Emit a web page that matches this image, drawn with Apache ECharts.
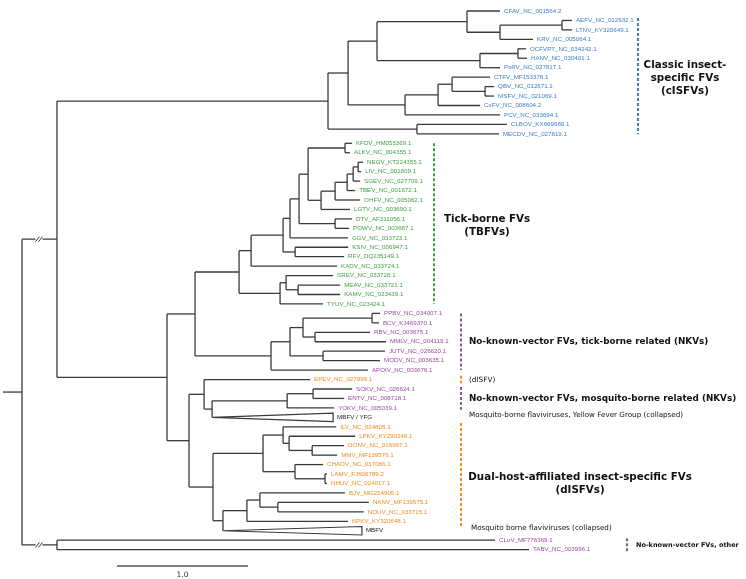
<!DOCTYPE html>
<html><head><meta charset="utf-8">
<script src="https://cdn.jsdelivr.net/npm/echarts@6/dist/echarts.min.js"></script>
<style>html,body{margin:0;padding:0;background:#fff}#c{width:746px;height:579px}</style>
</head><body><div id="c"></div>
<script>
// ---------- DATA ----------
// Phylogeny (branch lengths in substitutions/site, scale bar = 1.0)
const treeNewick = `(
 (
  (
   (
    (
     (CFAV_NC_001564.2:0.252,((AEFV_NC_012932.1:0.076,LTNV_KY320649.1:0.076):0.473,KRV_NC_005064.1:0.252):0.252):0.687,
     ((OCFVPT_NC_034242.1:0.061,HANV_NC_030401.1:0.069):0.290,PsRV_NC_027817.1:0.153):0.786
    ):0.221,
    (((CTFV_MF153378.1:0.290,(QBV_NC_012671.1:0.069,MSFV_NC_021069.1:0.069):0.252):0.107,CxFV_NC_008604.2:0.321):0.252,PCV_NC_033694.1:0.725):0.435
   ):0.153,
   (CLBOV_KX669689.1:0.687,MECDV_NC_027819.1:0.626):0.679
  ):2.069,
  (
   (
    (
     (
      (
       (
        (
         (
          (KFDV_HM055369.1:0.053,ALKV_NC_004355.1:0.038):0.282,
          (((((NEGV_KT224355.1:0.038,LIV_NC_001809.1:0.023):0.038,SGEV_NC_027709.1:0.053):0.046,TBEV_NC_001672.1:0.061):0.092,OHFV_NC_005062.1:0.191):0.107,LGTV_NC_003690.1:0.221):0.099
         ):0.069,
         (DTV_AF311056.1:0.130,POWV_NC_003687.1:0.107):0.275
        ):0.069,
        GGV_NC_033723.1:0.443
       ):0.053,
       (KSIV_NC_006947.1:0.405,RFV_DQ235149.1:0.374):0.092
      ):0.244,
      KADV_NC_033724.1:0.656
     ):0.092,
     ((SREV_NC_033726.1:0.359,(MEAV_NC_033721.1:0.321,KAMV_NC_023439.1:0.321):0.092):0.046,TYUV_NC_023424.1:0.328):0.313
    ):0.336,
    (
     (((PPBV_NC_034007.1:0.061,BCV_KJ469370.1:0.053):0.527,(RBV_NC_003675.1:0.420,MMLV_NC_004119.1:0.542):0.092):0.099,
      (JUTV_NC_026620.1:0.473,MODV_NC_003635.1:0.435):0.252):0.145,
     APOIV_NC_003676.1:0.740
    ):0.580
   ):0.214,
   (
    (
     EPEV_NC_027999.1:0.809,
     (((SOKV_NC_026624.1:0.298,ENTV_NC_008718.1:0.237):0.198,YOKV_NC_005039.1:0.359):0.573,MBFV / YFG:0.924):0.061
    ):0.115,
    (
     (
      (ILV_NC_024805.1:0.405,(LPKV_KY290249.1:0.504,(DONV_NC_016997.1:0.244,MMV_MF139576.1:0.191):0.176):0.046):0.153,
      (CHAOV_NC_017086.1:0.214,(LAMV_FJ606789.2:0.015,NHUV_NC_024017.1:0.015):0.229):0.244
     ):0.382,
     (
      ((BJV_MG214905.1:0.649,(NANV_MF139575.1:0.695,NOUV_NC_033715.1:0.656):0.137):0.099,KPKV_KY320648.1:0.771):0.183,
      MBFV:1.061
     ):0.076
    ):0.183
   ):0.168
  ):0.840
 )ingroup:0.267,
 (CLuV_MF776369.1:3.344,TABV_NC_003996.1:3.603)outgroup:0.267
):0.145;`;

// group of each leaf, in tree order: C=cISFV, T=TBFV, N=NKV, D=dISFV, M=MBFV collapsed
const leafGroups = "CCCCCCCCCCCCCCTTTTTTTTTTTTTTTTTTNNNNNNNDNNNMDDDDDDDDDDDMNN";
const groupColors = { C: "#3d7fc1", T: "#43a047", N: "#9a4ca2", D: "#f28c23", M: "#222222" };
const collapsedClades = ["MBFV / YFG", "MBFV"];
const brokenEdges = ["ingroup", "outgroup"];

// clade bars: [first row, last row], x position (substitutions), colour group
const barRows = [[0.75, 13.05], [14, 31], [32, 38], [38.6, 39.4], [39.8, 42.2], [43.6, 54.5], [55.8, 57.3]];
const barX = [4.702, 3.145, 3.351, 3.351, 3.351, 3.351, 4.618];
const barGroup = ["C", "T", "N", "D", "N", "D", "N"];

// annotations
const noteTexts = [
  "Classic insect-\nspecific FVs\n(cISFVs)",
  "Tick-borne FVs\n(TBFVs)",
  "No-known-vector FVs, tick-borne related (NKVs)",
  "(dISFV)",
  "No-known-vector FVs, mosquito-borne related (NKVs)",
  "Mosquito-borne flaviviruses, Yellow Fever Group (collapsed)",
  "Dual-host-affiliated insect-specific FVs\n(dISFVs)",
  "Mosquito borne flaviviruses (collapsed)",
  "No-known-vector FVs, other"
];
const noteX = [5.061, 3.55, 3.412, 3.412, 3.412, 3.412, 4.26, 3.427, 4.687];
const noteRow = [7.09, 22.75, 35.03, 39.05, 41.06, 42.75, 50.0, 54.7, 56.5];
const noteAlign = ["center", "center", "left", "left", "left", "left", "center", "left", "left"];
const noteSize = [10.3, 10.3, 8.8, 7.3, 8.8, 7.2, 10.3, 7.2, 6.5];
const noteBold = [true, true, true, false, true, false, true, false, true];

// scale bar
const scaleBarStart = 0.725, scaleBarLength = 1.0, scaleBarRow = 58.73, scaleBarLabel = "1.0";

// ---------- TREE LAYOUT ----------
function parseNewick(str) {
  const s = str.replace(/\s*([(),:;])\s*/g, "$1").trim();
  let i = 0;
  function node() {
    const n = { children: [], name: "", len: 0 };
    if (s[i] === "(") {
      i++;
      n.children.push(node());
      while (s[i] === ",") { i++; n.children.push(node()); }
      i++;
    }
    let name = "";
    while (i < s.length && !":,();".includes(s[i])) name += s[i++];
    n.name = name.trim();
    if (s[i] === ":") {
      i++; let num = "";
      while (i < s.length && !",();".includes(s[i])) num += s[i++];
      n.len = parseFloat(num);
    }
    return n;
  }
  return node();
}
const root = parseNewick(treeNewick);
let leafCounter = 0;
const leaves = [];
function layout(n, x) {
  n.x = x;
  if (!n.children.length) { n.y = leafCounter++; leaves.push(n); return; }
  n.children.forEach(c => layout(c, x + c.len));
  n.y = (n.children[0].y + n.children[n.children.length - 1].y) / 2;
}
layout(root, 0);

const segs = [], tris = [], breaks = [];
segs.push([-root.len, root.y, 0, root.y]);
(function walk(n) {
  if (!n.children.length) return;
  const c0 = n.children[0], c1 = n.children[n.children.length - 1];
  segs.push([n.x, c0.y, n.x, c1.y]);
  n.children.forEach(c => {
    if (collapsedClades.includes(c.name)) tris.push([n.x, c.y, c.x]);
    else segs.push([n.x, c.y, c.x, c.y]);
    if (brokenEdges.includes(c.name)) breaks.push([(n.x + c.x) / 2, c.y]);
    walk(c);
  });
})(root);

const leafLabels = leaves.map((l, k) => [l.x, l.y, l.name, groupColors[leafGroups[k]]]);

// ---------- CHART ----------
const chart = echarts.init(document.getElementById("c"), null, { renderer: "canvas" });
const lineCol = "#3a3a3a";
chart.setOption({
  animation: false,
  backgroundColor: "#ffffff",
  grid: { left: 3, right: 0, top: 0, bottom: 0 },
  xAxis: { type: "value", min: -0.145, max: -0.145 + 743 / 131, show: false },
  yAxis: { type: "value", min: -1.164, max: 60.106, inverse: true, show: false },
  series: [
    {
      type: "custom", data: segs, clip: false, silent: true,
      renderItem: (p, api) => {
        const a = api.coord([api.value(0), api.value(1)]), b = api.coord([api.value(2), api.value(3)]);
        return { type: "line", shape: { x1: a[0], y1: a[1], x2: b[0], y2: b[1] }, style: { stroke: lineCol, lineWidth: 1.3 } };
      }
    },
    {
      type: "custom", data: tris, clip: false, silent: true,
      renderItem: (p, api) => {
        const a = api.coord([api.value(0), api.value(1)]);
        const t = api.coord([api.value(2), api.value(1) - 0.45]);
        const b = api.coord([api.value(2), api.value(1) + 0.45]);
        return { type: "polygon", shape: { points: [a, t, b] }, style: { fill: "none", stroke: lineCol, lineWidth: 1.2 } };
      }
    },
    {
      type: "custom", data: breaks, clip: false, silent: true,
      renderItem: (p, api) => {
        const c = api.coord([api.value(0), api.value(1)]);
        return { type: "group", children: [
          { type: "rect", shape: { x: c[0] - 4, y: c[1] - 2, width: 7, height: 4 }, style: { fill: "#fff" } },
          { type: "line", shape: { x1: c[0] - 4, y1: c[1] + 2.5, x2: c[0], y2: c[1] - 2.5 }, style: { stroke: lineCol, lineWidth: 1 } },
          { type: "line", shape: { x1: c[0] - 1, y1: c[1] + 2.5, x2: c[0] + 3, y2: c[1] - 2.5 }, style: { stroke: lineCol, lineWidth: 1 } }
        ] };
      }
    },
    {
      type: "custom", data: leafLabels, clip: false, silent: true,
      renderItem: (p, api) => {
        const d = leafLabels[p.dataIndex];
        const c = api.coord([d[0], d[1]]);
        return { type: "text", x: c[0] + 4, y: c[1], style: { text: d[2], fill: d[3], font: '6.2px "Liberation Sans"', align: "left", verticalAlign: "middle" } };
      }
    },
    {
      type: "custom", data: barRows.map((r, k) => [barX[k], r[0], r[1], k]), clip: false, silent: true,
      renderItem: (p, api) => {
        const k = p.dataIndex;
        const a = api.coord([barX[k], barRows[k][0]]), b = api.coord([barX[k], barRows[k][1]]);
        return { type: "line", shape: { x1: a[0], y1: a[1], x2: b[0], y2: b[1] }, style: { stroke: groupColors[barGroup[k]], lineWidth: 2, lineDash: [3, 2] } };
      }
    },
    {
      type: "custom", data: noteTexts.map((t, k) => [noteX[k], noteRow[k]]), clip: false, silent: true,
      renderItem: (p, api) => {
        const k = p.dataIndex;
        const c = api.coord([noteX[k], noteRow[k]]);
        return { type: "text", x: c[0], y: c[1], style: {
          text: noteTexts[k], fill: "#111", align: noteAlign[k], verticalAlign: "middle",
          font: (noteBold[k] ? "bold " : "") + noteSize[k] + 'px "DejaVu Sans"',
          lineHeight: noteSize[k] * 1.25
        } };
      }
    },
    {
      type: "custom", data: [[scaleBarStart, scaleBarRow, scaleBarStart + scaleBarLength]], clip: false, silent: true,
      renderItem: (p, api) => {
        const a = api.coord([api.value(0), api.value(1)]), b = api.coord([api.value(2), api.value(1)]);
        return { type: "group", children: [
          { type: "line", shape: { x1: a[0], y1: a[1], x2: b[0], y2: b[1] }, style: { stroke: "#555", lineWidth: 1.5 } },
          { type: "text", x: (a[0] + b[0]) / 2, y: a[1] + 9, style: { text: scaleBarLabel, fill: "#333", font: '7.5px "DejaVu Sans"', align: "center", verticalAlign: "middle" } }
        ] };
      }
    }
  ]
});
</script></body></html>
